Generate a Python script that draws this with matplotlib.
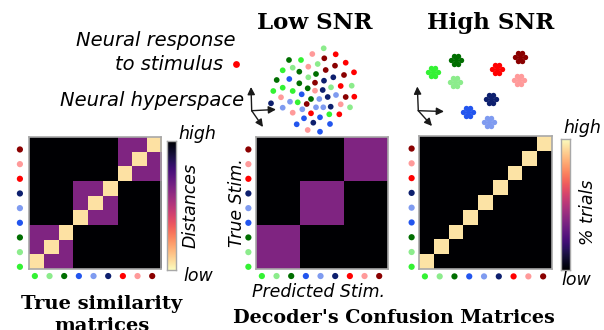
import numpy as np
import matplotlib
matplotlib.use("Agg")
import matplotlib.pyplot as plt

W, H = 604, 330

# ---------------- data ----------------
stim_colors = ['#33f233', '#8cec8c', '#006e00', '#2255ee', '#7f9bf0',
               '#0d1f6e', '#ff0000', '#ff9a9a', '#8a0000']
groups = [0, 0, 0, 1, 1, 1, 2, 2, 2]

# true similarity (distance) levels
dist_same = 0.06
dist_group = 0.63
dist_other = 1.0

# confusion fractions
low_snr_within = 1 / 3
high_snr_diag = 1.0

# low SNR cloud: x px, y px, stimulus index
low_x = [323.7, 312.3, 335.7, 289, 301, 324.3, 345.7, 317.7, 308.3, 335, 282.7, 292.7,
         299.3, 325.7, 354, 308.3, 316, 344, 333.3, 276.7, 289.3, 299.3, 315, 324,
         340.7, 351.7, 273.3, 282.7, 292.7, 307.7, 315, 322.7, 331, 301.7, 281, 290,
         311, 319.3, 327.7, 336, 345.7, 354.3, 271, 297.7, 306.7, 316, 323.3, 330.7,
         340.7, 282.7, 302.3, 350, 292.7, 311, 304, 320, 329.3, 339.3, 296.7, 313.3,
         330, 307.7, 320]
low_y = [48.3, 54, 54.3, 60, 60, 58.3, 62.7, 64, 66.7, 65.7, 70.3, 67.7,
         71.7, 70, 72.3, 77.3, 74, 75, 77.3, 80, 79, 83.3, 82.7, 80.7,
         86, 85.7, 91, 87.7, 91, 88.3, 90.7, 90, 87.3, 94.3, 97.3, 101.7,
         99, 99, 97, 95, 97, 96.7, 103.3, 102.3, 104, 107.3, 107.3, 106.7,
         104.3, 107.7, 109.3, 107.3, 112.7, 113.3, 118.3, 117.3, 114.3, 114.3, 124.3, 122.7,
         124, 130, 131.7]
low_c = [1, 7, 6, 2, 0, 8, 6, 1, 7, 8, 0, 1,
         2, 8, 6, 1, 2, 8, 5, 2, 3, 2, 8, 5,
         6, 1, 0, 0, 0, 2, 7, 5, 1, 3, 7, 4,
         2, 4, 5, 4, 8, 6, 5, 0, 8, 4, 4, 5,
         7, 4, 4, 1, 7, 6, 3, 3, 0, 6, 3, 5,
         3, 7, 3]

# high SNR clusters (centres in px), one per stimulus
high_cx = [433, 455, 456, 468, 489, 491, 497, 519, 520]
high_cy = [72, 82, 60, 112, 122, 99, 69, 80, 57]
# dot layout inside one cluster (px)
clu_dx = [-2.4, 2.4, -4.8, 0.0, 4.8, -2.4, 2.4]
clu_dy = [-4.2, -4.2, 0.0, 0.0, 0.0, 4.2, 4.2]

n = len(stim_colors)


def rect(x0, y0, x1, y1):
    return [x0 / W, 1 - y1 / H, (x1 - x0) / W, (y1 - y0) / H]


fig = plt.figure(figsize=(W / 100, H / 100), dpi=100)

# ---------- overlay for free drawing ----------
ov = fig.add_axes([0, 0, 1, 1], zorder=0)
ov.set_xlim(0, W)
ov.set_ylim(H, 0)
ov.axis('off')

ov.scatter(low_x, low_y, s=17, c=[stim_colors[i] for i in low_c], linewidths=0)
for k in range(n):
    ov.scatter([high_cx[k] + d for d in clu_dx], [high_cy[k] + d for d in clu_dy],
               s=15, c=stim_colors[k], linewidths=0)


def axes_arrows(o, tips):
    for t in tips:
        ov.annotate('', xy=t, xytext=o,
                    arrowprops=dict(arrowstyle='-|>', color='#1a1a1a', lw=1.0,
                                    mutation_scale=11, shrinkA=0, shrinkB=0))


axes_arrows((251.7, 110.7), [(251, 87), (276, 109.5), (263, 127)])
axes_arrows((418.3, 110.7), [(417.3, 86.5), (444, 111.5), (432, 126)])

serif = ['DejaVu Serif']
ov.text(315, 23, 'Low SNR', ha='center', va='center', fontsize=16.5,
        fontweight='bold', family=serif)
ov.text(491, 23, 'High SNR', ha='center', va='center', fontsize=16.5,
        fontweight='bold', family=serif)
ov.text(235, 40, 'Neural response', ha='right', va='center', fontsize=14,
        style='italic')
ov.text(223, 65, 'to stimulus', ha='right', va='center', fontsize=14,
        style='italic')
ov.scatter([236], [64], s=24, c='#ff0000', linewidths=0)
ov.text(60, 100, 'Neural hyperspace', ha='left', va='center', fontsize=14,
        style='italic')
ov.text(102, 304, 'True similarity', ha='center', va='center', fontsize=14,
        fontweight='bold', family=serif)
ov.text(102, 326, 'matrices', ha='center', va='center', fontsize=14,
        fontweight='bold', family=serif)
ov.text(394, 318, "Decoder's Confusion Matrices", ha='center', va='center',
        fontsize=13.8, fontweight='bold', family=serif)
ov.text(318, 292, 'Predicted Stim.', ha='center', va='center', fontsize=12.5,
        style='italic')
ov.text(237, 203, 'True Stim.', ha='center', va='center', fontsize=12.5,
        style='italic', rotation=90)

# ---------- matrices ----------
true_mat = np.full((n, n), dist_other)
low_mat = np.zeros((n, n))
high_mat = np.zeros((n, n))
for i in range(n):
    for j in range(n):
        if groups[i] == groups[j]:
            true_mat[i, j] = dist_group
            low_mat[i, j] = low_snr_within
    true_mat[i, i] = dist_same
    high_mat[i, i] = high_snr_diag

edge = '#a8a8a8'


def matrix_ax(r, data, cmap, vmax, dot_dx, dot_dy):
    ax = fig.add_axes(rect(*r), zorder=2)
    ax.imshow(data, cmap=cmap, vmin=0, vmax=vmax, origin='lower',
              interpolation='nearest', aspect='auto')
    ax.set_xticks([])
    ax.set_yticks([])
    for s in ax.spines.values():
        s.set_color(edge)
        s.set_linewidth(1.2)
    idx = np.arange(n)
    ax.scatter(np.full(n, -0.5 - dot_dx), idx - 0.35, s=20, c=stim_colors,
               linewidths=0, clip_on=False)
    ax.scatter(idx - 0.1, np.full(n, -0.5 - dot_dy), s=20, c=stim_colors,
               linewidths=0, clip_on=False)
    ax.set_xlim(-0.5, n - 0.5)
    ax.set_ylim(-0.5, n - 0.5)


matrix_ax((29, 137, 161, 269), true_mat, 'magma_r', 1.0, 0.62, 0.48)
matrix_ax((256, 137, 388, 269), low_mat, 'magma', 0.9, 0.52, 0.48)
matrix_ax((419, 136, 552, 269), high_mat, 'magma', 1.06, 0.5, 0.5)


def cbar(r, cmap):
    cax = fig.add_axes(rect(*r), zorder=2)
    grad = np.linspace(0, 1, 256).reshape(-1, 1)
    cax.imshow(grad, cmap=cmap, origin='lower', aspect='auto')
    cax.set_xticks([])
    cax.set_yticks([])
    for s in cax.spines.values():
        s.set_color(edge)
        s.set_linewidth(1.0)


cbar((167, 141, 176, 270), 'magma_r')
cbar((561, 139, 570, 270), 'magma')

ov2 = fig.add_axes([0, 0, 1, 1], zorder=3)
ov2.set_xlim(0, W)
ov2.set_ylim(H, 0)
ov2.axis('off')
ov2.text(178, 134, 'high', ha='left', va='center', fontsize=12.5, style='italic')
ov2.text(183, 276, 'low', ha='left', va='center', fontsize=12.5, style='italic')
ov2.text(191, 205, 'Distances', ha='center', va='center', fontsize=12.5,
         style='italic', rotation=90)
ov2.text(563, 128, 'high', ha='left', va='center', fontsize=12.5, style='italic')
ov2.text(561, 280, 'low', ha='left', va='center', fontsize=12.5, style='italic')
ov2.text(588, 212, '% trials', ha='center', va='center', fontsize=12.5,
         style='italic', rotation=90)

fig.savefig('out.png', dpi=100)
